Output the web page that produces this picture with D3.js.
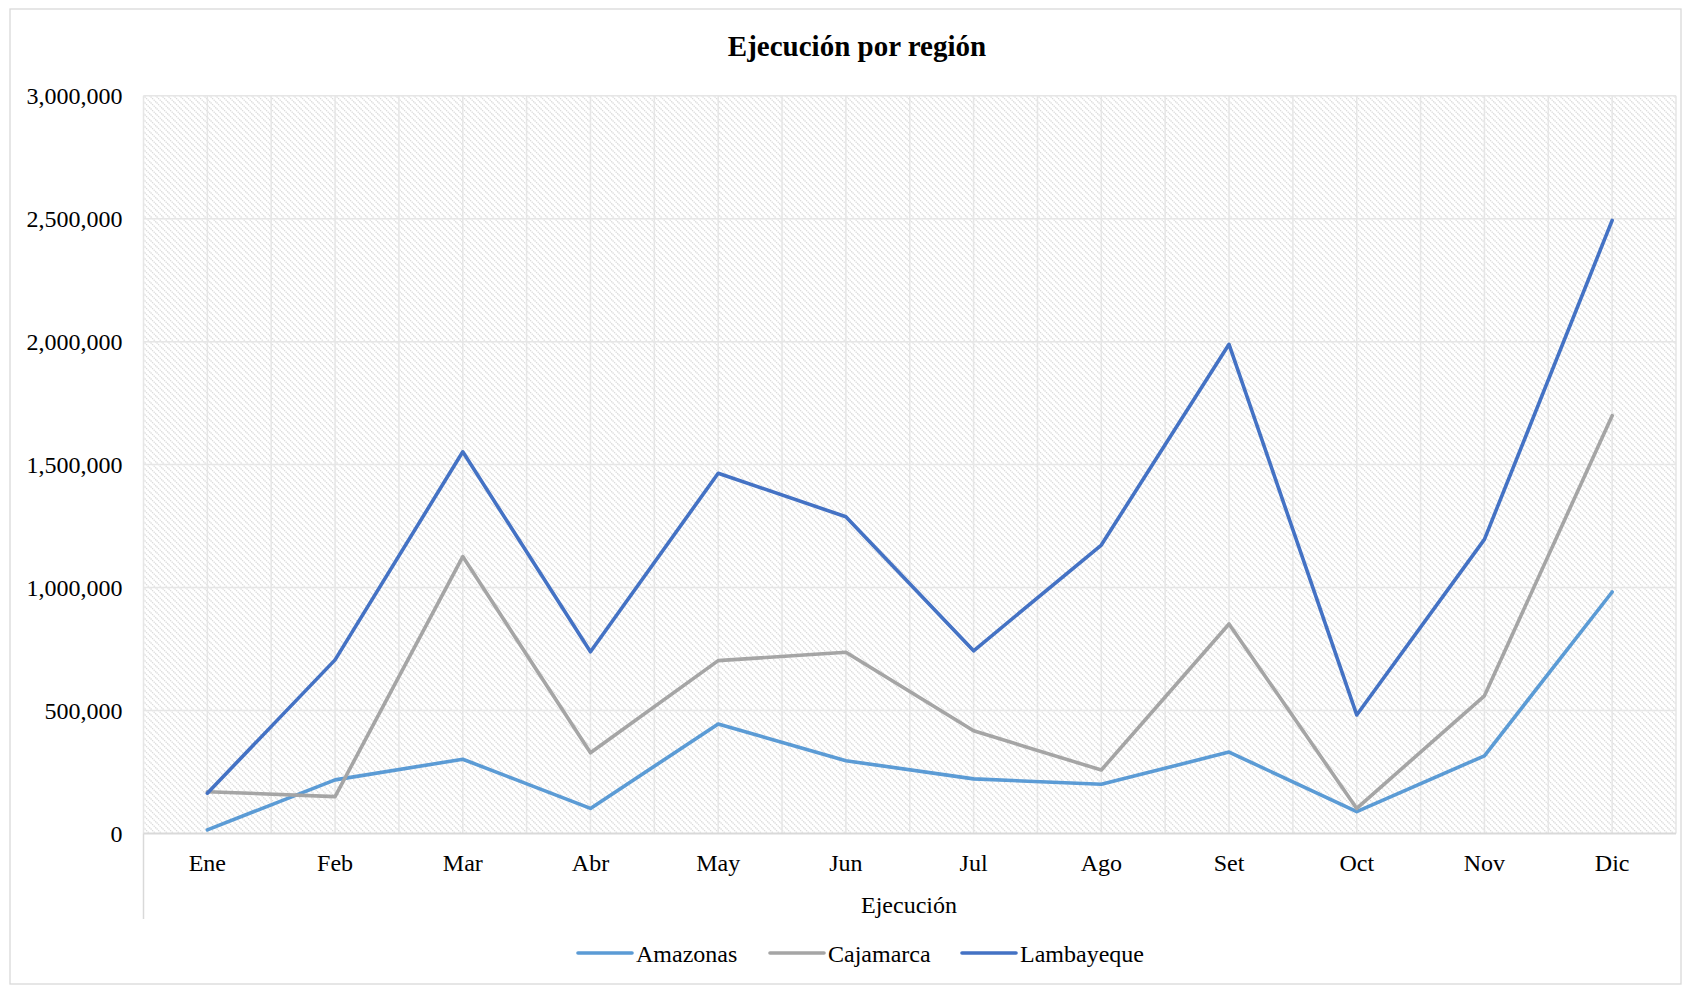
<!DOCTYPE html>
<html>
<head>
<meta charset="utf-8">
<script src="https://cdn.jsdelivr.net/npm/d3@7/dist/d3.min.js"></script>
<style>
  html, body { margin: 0; padding: 0; background: #fff; }
  svg { display: block; }
  text { font-family: "Liberation Serif", "Times New Roman", serif; fill: #000; }
</style>
</head>
<body>
<svg id="chart" width="1686" height="986"></svg>
<script>
const months = ["Ene","Feb","Mar","Abr","May","Jun","Jul","Ago","Set","Oct","Nov","Dic"];
const seriesNames = ["Amazonas","Cajamarca","Lambayeque"];
const amazonas   = [15000, 218000, 302000, 102000, 445000, 296000, 222000, 200000, 331000, 89000, 316000, 982000];
const cajamarca  = [170000, 150000, 1126000, 328000, 703000, 737000, 418000, 258000, 852000, 102000, 560000, 1699000];
const lambayeque = [164000, 706000, 1552000, 739000, 1465000, 1288000, 743000, 1173000, 1989000, 482000, 1196000, 2493000];
const yTicks = [0, 500000, 1000000, 1500000, 2000000, 2500000, 3000000];
const colors = ["#5B9BD5", "#A5A5A5", "#4472C4"];
const title = "Ejecución por región";
const xTitle = "Ejecución";

const svg = d3.select("#chart");
const L = 143.5, R = 1676, T = 95.7, B = 833.5;

// pattern
const defs = svg.append("defs");
const pat = defs.append("pattern").attr("id", "hatch").attr("patternUnits", "userSpaceOnUse")
  .attr("width", 6).attr("height", 6);
pat.append("rect").attr("width", 6).attr("height", 6).attr("fill", "#ffffff");
pat.append("path").attr("d", "M-1,-1 L7,7 M-4,2 L2,8 M4,-2 L8,2")
  .attr("stroke", "#dadada").attr("stroke-width", 1.3).attr("stroke-dasharray", "1.4,0.8");

// outer border
svg.append("rect").attr("x", 10).attr("y", 9).attr("width", 1671).attr("height", 975)
  .attr("fill", "#fff").attr("stroke", "#d9d9d9").attr("stroke-width", 1.3);

const x = d3.scaleBand().domain(months).range([L, R]).paddingInner(0).paddingOuter(0);
const y = d3.scaleLinear().domain([0, 3000000]).range([B, T]);
const cx = m => x(m) + x.bandwidth() / 2;

// plot background
svg.append("rect").attr("x", L).attr("y", T).attr("width", R - L).attr("height", B - T)
  .attr("fill", "url(#hatch)");

// vertical gridlines (band boundaries and centres)
const vLines = [];
months.forEach(m => { vLines.push(x(m)); vLines.push(cx(m)); });
vLines.push(R);
svg.append("g").selectAll("line").data(vLines).join("line")
  .attr("x1", d => d).attr("x2", d => d).attr("y1", T).attr("y2", B)
  .attr("stroke", "#e6e6e6").attr("stroke-width", 1.5);

// horizontal gridlines
svg.append("g").selectAll("line").data(yTicks.filter(d => d > 0)).join("line")
  .attr("x1", L).attr("x2", R).attr("y1", d => y(d)).attr("y2", d => y(d))
  .attr("stroke", "#e6e6e6").attr("stroke-width", 1.5);

// x axis line
svg.append("line").attr("x1", L).attr("x2", R).attr("y1", B).attr("y2", B)
  .attr("stroke", "#d9d9d9").attr("stroke-width", 1.8);
svg.append("line").attr("x1", L).attr("x2", L).attr("y1", B).attr("y2", 919)
  .attr("stroke", "#d9d9d9").attr("stroke-width", 1.5);

// y axis
const fmt = d3.format(",");
const yAxis = svg.append("g").attr("transform", `translate(${L},0)`)
  .call(d3.axisLeft(y).tickValues(yTicks).tickFormat(fmt).tickSize(0).tickPadding(21));
yAxis.select(".domain").remove();
yAxis.selectAll("text").attr("font-size", 24).attr("font-family", "Liberation Serif").attr("fill", "#000");

// x axis
const xAxis = svg.append("g").attr("transform", `translate(0,${B})`)
  .call(d3.axisBottom(x).tickSize(0).tickPadding(20));
xAxis.select(".domain").remove();
xAxis.selectAll("text").attr("font-size", 24).attr("font-family", "Liberation Serif").attr("fill", "#000");

// lines
const allSeries = [amazonas, cajamarca, lambayeque];
const line = d3.line().x((d, i) => cx(months[i])).y(d => y(d));
svg.append("g").selectAll("path").data(allSeries).join("path")
  .attr("d", d => line(d)).attr("fill", "none")
  .attr("stroke", (d, i) => colors[i]).attr("stroke-width", 3.6)
  .attr("stroke-linejoin", "round").attr("stroke-linecap", "round");

// title
svg.append("text").attr("x", 857).attr("y", 56).attr("text-anchor", "middle")
  .attr("font-size", 29).attr("font-weight", "bold").text(title);

// x title
svg.append("text").attr("x", 909).attr("y", 913).attr("text-anchor", "middle")
  .attr("font-size", 24).text(xTitle);

// legend
const legX = [578, 770, 962];
const lg = svg.append("g").selectAll("g").data(seriesNames).join("g")
  .attr("transform", (d, i) => `translate(${legX[i]},953)`);
lg.append("line").attr("x1", 0).attr("x2", 54).attr("y1", 0).attr("y2", 0)
  .attr("stroke", (d, i) => colors[i]).attr("stroke-width", 3.6).attr("stroke-linecap", "round");
lg.append("text").attr("x", 58).attr("y", 8.5).attr("font-size", 24).text(d => d);
</script>
</body>
</html>
